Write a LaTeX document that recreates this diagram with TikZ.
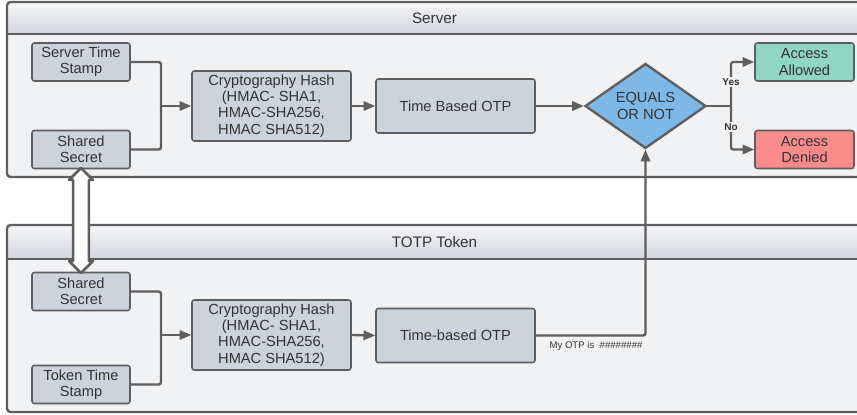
\documentclass[tikz,border=0pt]{standalone}
\usepackage{fontspec}
\setmainfont{Liberation Sans}
\usetikzlibrary{shapes.geometric,shapes.arrows,arrows.meta,calc}
\definecolor{lineC}{HTML}{5E5E5E}
\definecolor{txtC}{HTML}{333333}
\definecolor{boxC}{HTML}{CDD3DC}
\definecolor{bodyC}{HTML}{F1F2F4}
\definecolor{hdTop}{HTML}{F5F6F8}
\definecolor{hdBot}{HTML}{D2D6DC}
\definecolor{eqC}{HTML}{7DB8E6}
\definecolor{okC}{HTML}{8FD6C3}
\definecolor{noC}{HTML}{FC8B8B}
\tikzset{
  box/.style={draw=lineC, line width=1.3pt, fill=boxC, rounded corners=2pt, align=center,
    text=txtC, inner sep=0pt, font=\fontsize{12.5}{13.8}\selectfont},
  smallbox/.style={box, minimum width=2.94cm, minimum height=1.14cm},
  hashbox/.style={box, minimum width=4.77cm, minimum height=2.1cm},
  otpbox/.style={box, minimum width=4.77cm, minimum height=1.62cm},
  frame/.style={draw=lineC, line width=2pt},
  title/.style={text=txtC, font=\fontsize{13}{15}\selectfont},
  link/.style={draw=lineC, line width=2pt, rounded corners=2pt},
  arr/.style={link, -{Triangle[length=10pt,width=8pt]}},
  tag/.style={text=txtC, fill=bodyC, inner sep=1pt, font=\fontsize{8.5}{10}\bfseries},
}
\begin{document}
\begin{tikzpicture}[x=0.03cm, y=-0.03cm] % 一个单位 = 1 像素
\useasboundingbox (0,0) rectangle (857,414); % 画布大小
% 服务器面板
\fill[bodyC] (7,2) rectangle (862,177);
\shade[top color=hdTop, bottom color=hdBot] (7,2) rectangle (862,34); % 标题栏
\draw[frame, rounded corners=3pt] (7,2) rectangle (862,177);
\draw[frame] (7,34) -- (862,34);
\node[title] (srvTitle) at (434.5,18) {Server};
% 令牌面板
\fill[bodyC] (7,225) rectangle (862,412);
\shade[top color=hdTop, bottom color=hdBot] (7,225) rectangle (862,259); % 标题栏
\draw[frame, rounded corners=3pt] (7,225) rectangle (862,412);
\draw[frame] (7,259) -- (862,259);
\node[title] (tokTitle) at (434.5,242) {TOTP Token};
% 服务器端的方框
\node[smallbox] (stS) at (81,62) {Server Time\\Stamp};
\node[smallbox] (ssS) at (81,149.5) {Shared\\Secret};
\node[hashbox] (hashS) at (271.5,106) {Cryptography Hash\\(HMAC- SHA1,\\HMAC-SHA256,\\HMAC SHA512)};
\node[otpbox] (otpS) at (455.5,106) {Time Based OTP};
\node[diamond, draw=lineC, line width=2pt, fill=eqC, text=txtC, align=center, aspect=1.4,
  inner sep=0pt, minimum width=3.63cm, minimum height=2.55cm,
  font=\fontsize{12.5}{13.8}\selectfont] (eq) at (645.5,106) {EQUALS\\OR NOT};
\node[smallbox, fill=okC, minimum width=2.97cm] (allow) at (804.5,62) {Access\\Allowed};
\node[smallbox, fill=noC, minimum width=2.97cm] (deny) at (804.5,149.5) {Access\\Denied};
% 令牌端的方框
\node[smallbox] (ssT) at (81,291.5) {Shared\\Secret};
\node[smallbox] (ttT) at (81,384.5) {Token Time\\Stamp};
\node[hashbox] (hashT) at (271.5,335) {Cryptography Hash\\(HMAC- SHA1,\\HMAC-SHA256,\\HMAC SHA512)};
\node[otpbox] (otpT) at (455.5,335.5) {Time-based OTP};
% 汇合点
\coordinate (jS) at (161,106);
\coordinate (jT) at (161,335);
\coordinate (jD) at (731,106);
% 服务器端连线
\draw[link] (stS.east) -| (jS);
\draw[link] (ssS.east) -| (jS);
\draw[arr] (jS) -- (hashS.west);
\draw[arr] (hashS.east) -- (otpS.west);
\draw[arr] (otpS.east) -- (eq.west);
\draw[link] (eq.east) -- (jD);
\draw[arr] (jD) |- (allow.west);
\draw[arr] (jD) |- (deny.west);
\node[tag] (yesTag) at (731,82) {Yes};
\node[tag] (noTag) at (731,127) {No};
% 令牌端连线
\draw[link] (ssT.east) -| (jT);
\draw[link] (ttT.east) -| (jT);
\draw[arr] (jT) -- (hashT.west);
\draw[arr] (hashT.east) -- (otpT.west);
\draw[arr] (otpT.east) -| (eq.south); % 令牌 OTP 送到比较
\node[text=txtC, font=\fontsize{8.2}{10}\selectfont] (otpTag) at (596,346) {My OTP is\ \ \#\#\#\#\#\#\#\#};
% 共享密钥(双向空心箭头)
\node[double arrow, draw=lineC, line width=2.2pt, line join=round, fill=white, rotate=90,
  inner xsep=0pt, inner ysep=0.2cm, minimum height=3.15cm, double arrow head extend=0.12cm]
  (sync) at ($(ssS.south)!0.5!(ssT.north)$) {};
\end{tikzpicture}
\end{document}
